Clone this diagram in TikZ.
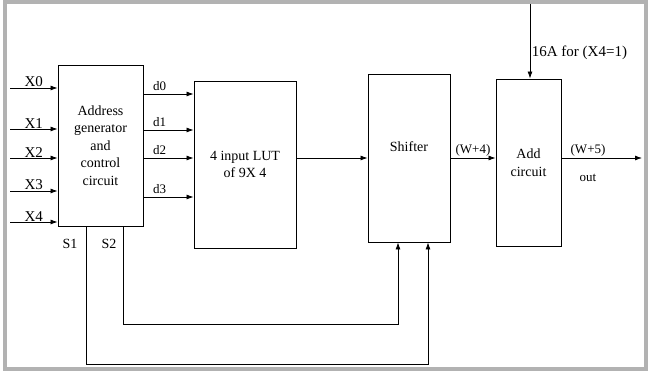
\documentclass[tikz,border=0pt]{standalone}
\usepackage{fontspec}
\setmainfont{Liberation Serif}
\usetikzlibrary{calc, positioning, arrows.meta}

\begin{document}
\begin{tikzpicture}[
    x=1pt, y=-1pt,
    blk/.style={draw, line width=0.9pt, inner sep=0pt, align=center,
        font=\fontsize{14}{17.5}\selectfont},
    sig/.style={line width=0.8pt, -{Latex[length=7pt, width=5pt]}},
    lbl/.style={font=\fontsize{15}{17}\selectfont, inner sep=1.5pt}
]

    % 1. Moldura e limites
    \useasboundingbox (0,0) rectangle (648,371);
    \draw[gray!60, line width=4pt] (5,2) rectangle (646,369);

    % 2. Blocos principais
    \node[blk, minimum width=85pt, minimum height=161pt] (addr) at (100.5,145.5)
        {Address\\generator\\and\\control\\circuit};
    \node[blk, minimum width=102pt, minimum height=167pt] (lut) at (245,164.5)
        {4 input LUT\\of 9X 4};
    \node[blk, minimum width=82pt, minimum height=168pt] (shifter) at (409,158)
        {};
    \node[lbl, font=\fontsize{14}{16}\selectfont] (shiftertxt) at (409,147) {Shifter};
    \node[blk, minimum width=65pt, minimum height=167pt] (add) at (528.5,162.5)
        {Add\\circuit};

    % 3. Entradas X0..X4
    \foreach \i/\y in {0/88, 1/129, 2/158, 3/191, 4/222} {
        \coordinate (x\i) at (10,\y);
        \draw[sig] (x\i) -- (x\i -| addr.west)
            node[lbl, midway, above, inner sep=0.5pt] (xl\i) {X\i};
    }

    % 4. Saidas d0..d3 para a LUT
    \foreach \i/\y in {0/94, 1/130, 2/158, 3/197} {
        \coordinate (d\i) at (143,\y);
        \draw[sig] (d\i) -- (d\i -| lut.west)
            node[lbl, pos=0.33, above, inner sep=3pt,
                 font=\fontsize{13}{15}\selectfont] (dl\i) {d\i};
    }

    % 5. LUT -> Shifter -> Add -> saida
    \coordinate (lutout) at (lut.east |- 0,158);
    \draw[sig] (lutout) -- (lutout -| shifter.west);
    \coordinate (shout) at (shifter.east |- 0,158);
    \draw[sig] (shout) -- (shout -| add.west)
        node[lbl, midway, above, font=\fontsize{13}{15}\selectfont] (w4) {(W+4)};
    \coordinate (addout) at (add.east |- 0,158);
    \coordinate (outend) at (642,158);
    \draw[sig] (addout) -- (outend)
        node[lbl, pos=0.33, above, font=\fontsize{13}{15}\selectfont] (w5) {(W+5)}
        node[lbl, pos=0.33, below, yshift=-14pt, font=\fontsize{13}{15}\selectfont] (out) {out};

    % 6. Entrada 16A no somador
    \coordinate (top) at (530,4);
    \draw[sig] (top) -- (top |- add.north)
        node[lbl, pos=0.65, right, font=\fontsize{15}{17}\selectfont] (sixteen) {16A for (X4=1)};

    % 7. Sinais de controle S1 e S2
    \coordinate (s1) at (86,0 |- addr.south);
    \coordinate (s2) at (123,0 |- addr.south);
    \node[lbl, font=\fontsize{14}{16}\selectfont] (s1l) at (70,244) {S1};
    \node[lbl, font=\fontsize{14}{16}\selectfont] (s2l) at (109,244) {S2};
    \draw[sig] (s2) |- (398,324) -- (398,0 |- shifter.south);
    \draw[sig] (s1) |- (428,364) -- (428,0 |- shifter.south);

\end{tikzpicture}
\end{document}
